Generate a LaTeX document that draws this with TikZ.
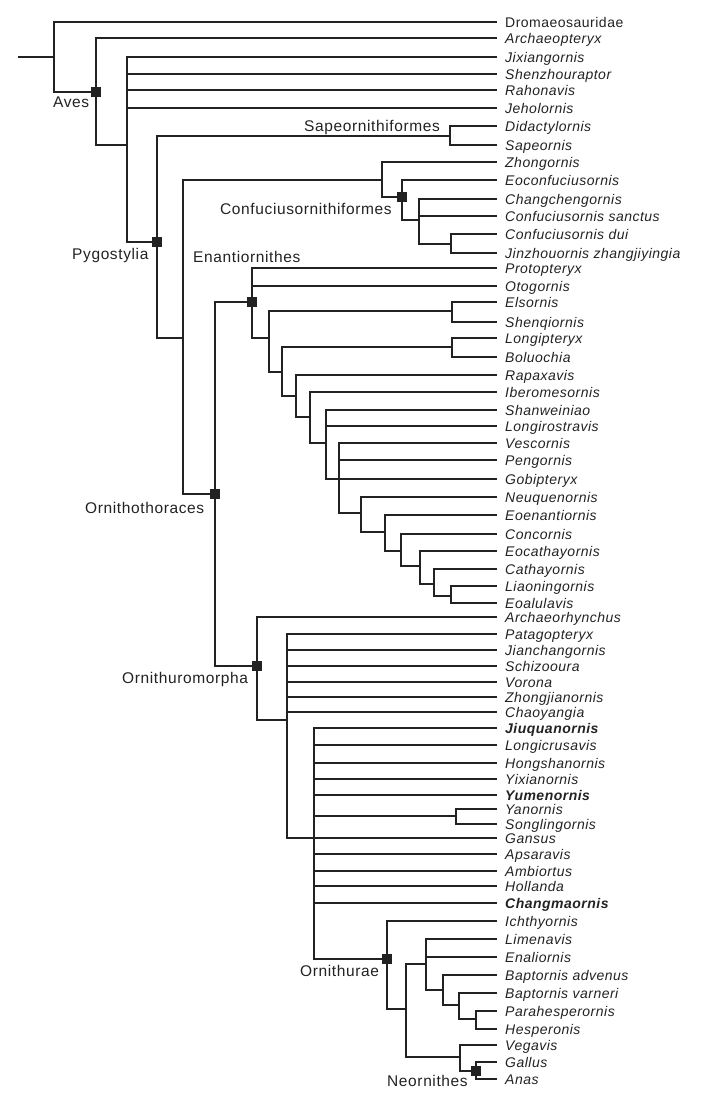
\documentclass[tikz,border=0pt]{standalone}
\usepackage{fontspec}
\setmainfont{Liberation Sans}
\newfontfamily\leaffont[LetterSpace=3.5]{Liberation Sans}
\newfontfamily\cladefont[LetterSpace=4]{Liberation Sans}
\definecolor{ink}{HTML}{222222}
\newcommand\lf[4]{%
  \coordinate (#1) at (497,#2);
  \node[leaf,#3] (#1-t) at (505,{#2+5}) {#4};}
\newcommand\br[2]{\foreach \c in {#2}{\draw[brline] (#1) |- (\c);}}
\begin{document}
\begin{tikzpicture}[x=1pt,y=-1pt,
  brline/.style={draw=ink,line width=1.8pt},
  leaf/.style={anchor=base west,inner sep=0pt,text=ink,font=\leaffont\fontsize{14}{16}\selectfont\itshape},
  bolditem/.style={font=\leaffont\fontsize{14}{16}\selectfont\itshape\bfseries},
  uprightitem/.style={font=\leaffont\fontsize{14}{16}\selectfont\upshape},
  clade/.style={anchor=base west,inner sep=0pt,text=ink,font=\cladefont\fontsize{15.5}{18}\selectfont},
  sq/.style={fill=ink,draw=none,minimum size=10pt,inner sep=0pt}]
\useasboundingbox (0,0) rectangle (702,1103);
% leaves
\lf{Dro}{22}{uprightitem}{Dromaeosauridae}
\lf{Arc}{38}{}{Archaeopteryx}
\lf{Jix}{57}{}{Jixiangornis}
\lf{She}{74}{}{Shenzhouraptor}
\lf{Rah}{90}{}{Rahonavis}
\lf{Jeh}{108}{}{Jeholornis}
\lf{Did}{126}{}{Didactylornis}
\lf{Sap}{145}{}{Sapeornis}
\lf{Zho}{162}{}{Zhongornis}
\lf{Eoc}{180}{}{Eoconfuciusornis}
\lf{Cha}{199}{}{Changchengornis}
\lf{Csa}{216}{}{Confuciusornis sanctus}
\lf{Cdu}{234}{}{Confuciusornis dui}
\lf{Jin}{253}{}{Jinzhouornis zhangjiyingia}
\lf{Pro}{268}{}{Protopteryx}
\lf{Oto}{286}{}{Otogornis}
\lf{Els}{302}{}{Elsornis}
\lf{Shq}{322}{}{Shenqiornis}
\lf{Lpt}{338}{}{Longipteryx}
\lf{Bol}{357}{}{Boluochia}
\lf{Rap}{375}{}{Rapaxavis}
\lf{Ibe}{392}{}{Iberomesornis}
\lf{Shw}{410}{}{Shanweiniao}
\lf{Lro}{426}{}{Longirostravis}
\lf{Ves}{443}{}{Vescornis}
\lf{Pen}{460}{}{Pengornis}
\lf{Gob}{479}{}{Gobipteryx}
\lf{Neu}{497}{}{Neuquenornis}
\lf{Eoe}{515}{}{Eoenantiornis}
\lf{Con}{534}{}{Concornis}
\lf{Eca}{551}{}{Eocathayornis}
\lf{Cat}{569}{}{Cathayornis}
\lf{Lia}{586}{}{Liaoningornis}
\lf{Eoa}{603}{}{Eoalulavis}
\lf{Arh}{617}{}{Archaeorhynchus}
\lf{Pat}{634}{}{Patagopteryx}
\lf{Jia}{650}{}{Jianchangornis}
\lf{Sch}{666}{}{Schizooura}
\lf{Vor}{682}{}{Vorona}
\lf{Zhj}{697}{}{Zhongjianornis}
\lf{Chy}{712}{}{Chaoyangia}
\lf{Jiu}{728}{bolditem}{Jiuquanornis}
\lf{Lcr}{745}{}{Longicrusavis}
\lf{Hon}{763}{}{Hongshanornis}
\lf{Yix}{779}{}{Yixianornis}
\lf{Yum}{795}{bolditem}{Yumenornis}
\lf{Yan}{809}{}{Yanornis}
\lf{Son}{824}{}{Songlingornis}
\lf{Gan}{838}{}{Gansus}
\lf{Aps}{854}{}{Apsaravis}
\lf{Amb}{871}{}{Ambiortus}
\lf{Hol}{886}{}{Hollanda}
\lf{Chm}{903}{bolditem}{Changmaornis}
\lf{Ich}{921}{}{Ichthyornis}
\lf{Lim}{939}{}{Limenavis}
\lf{Ena}{957}{}{Enaliornis}
\lf{Bad}{975}{}{Baptornis advenus}
\lf{Bva}{993}{}{Baptornis varneri}
\lf{Par}{1011}{}{Parahesperornis}
\lf{Hes}{1029}{}{Hesperonis}
\lf{Veg}{1045}{}{Vegavis}
\lf{Gal}{1062}{}{Gallus}
\lf{Ana}{1079}{}{Anas}
% internal nodes
\coordinate (stem) at (18,57);
\coordinate (root) at (54,57);
\coordinate (aves) at (96,92);
\coordinate (n127) at (127,145);
\coordinate (pyg) at (157,242);
\coordinate (sape) at (450,136);
\coordinate (n183) at (183,338);
\coordinate (n382) at (382,180);
\coordinate (conf) at (402,197);
\coordinate (n419) at (419,220);
\coordinate (n451) at (451,244);
\coordinate (orth) at (215,494);
\coordinate (enan) at (252,302);
\coordinate (n269) at (269,338);
\coordinate (n452a) at (452,311);
\coordinate (n282) at (282,372);
\coordinate (n452b) at (452,347);
\coordinate (n296) at (296,396);
\coordinate (n310) at (310,417);
\coordinate (n326) at (326,443);
\coordinate (n339) at (339,479);
\coordinate (n361) at (361,513);
\coordinate (n385) at (385,532);
\coordinate (n401) at (401,551);
\coordinate (n420) at (420,566);
\coordinate (n434) at (434,584);
\coordinate (n451c) at (451,596);
\coordinate (ornm) at (257,666);
\coordinate (n287) at (287,720);
\coordinate (n314) at (314,838);
\coordinate (n456) at (456,816);
\coordinate (orn) at (387,959);
\coordinate (n406) at (406,1009);
\coordinate (n426) at (426,964);
\coordinate (n443) at (443,990);
\coordinate (n459) at (459,1005);
\coordinate (n476) at (476,1019);
\coordinate (n460) at (460,1057);
\coordinate (neo) at (476,1071);
% branches
\draw[brline] (stem) -- (root);
\br{root}{Dro,aves}
\br{aves}{Arc,n127}
\br{n127}{Jix,She,Rah,Jeh,pyg}
\br{pyg}{sape,n183}
\br{sape}{Did,Sap}
\br{n183}{n382,orth}
\br{n382}{Zho,conf}
\br{conf}{Eoc,n419}
\br{n419}{Cha,Csa,n451}
\br{n451}{Cdu,Jin}
\br{orth}{enan,ornm}
\br{enan}{Pro,Oto,n269}
\br{n269}{n452a,n282}
\br{n452a}{Els,Shq}
\br{n282}{n452b,n296}
\br{n452b}{Lpt,Bol}
\br{n296}{Rap,n310}
\br{n310}{Ibe,n326}
\br{n326}{Shw,Lro,n339}
\br{n339}{Ves,Pen,Gob,n361}
\br{n361}{Neu,n385}
\br{n385}{Eoe,n401}
\br{n401}{Con,n420}
\br{n420}{Eca,n434}
\br{n434}{Cat,n451c}
\br{n451c}{Lia,Eoa}
\br{ornm}{Arh,n287}
\br{n287}{Pat,Jia,Sch,Vor,Zhj,Chy,n314}
\br{n314}{Jiu,Lcr,Hon,Yix,Yum,n456,Gan,Aps,Amb,Hol,Chm,orn}
\br{n456}{Yan,Son}
\br{orn}{Ich,n406}
\br{n406}{n426,n460}
\br{n426}{Lim,Ena,n443}
\br{n443}{Bad,n459}
\br{n459}{Bva,n476}
\br{n476}{Par,Hes}
\br{n460}{Veg,neo}
\br{neo}{Gal,Ana}
% clade markers
\foreach \k in {aves,pyg,conf,enan,orth,ornm,orn,neo}{\node[sq] (\k-sq) at (\k) {};}
% clade labels
\node[clade] (lAves) at (53,107) {Aves};
\node[clade] (lPyg) at (72,259) {Pygostylia};
\node[clade] (lSape) at (304,131) {Sapeornithiformes};
\node[clade] (lConf) at (220,214) {Confuciusornithiformes};
\node[clade] (lEnan) at (193,262) {Enantiornithes};
\node[clade] (lOrth) at (85,513) {Ornithothoraces};
\node[clade] (lOrnm) at (122,683) {Ornithuromorpha};
\node[clade] (lOrn) at (300,976) {Ornithurae};
\node[clade] (lNeo) at (387,1086) {Neornithes};
\end{tikzpicture}
\end{document}
